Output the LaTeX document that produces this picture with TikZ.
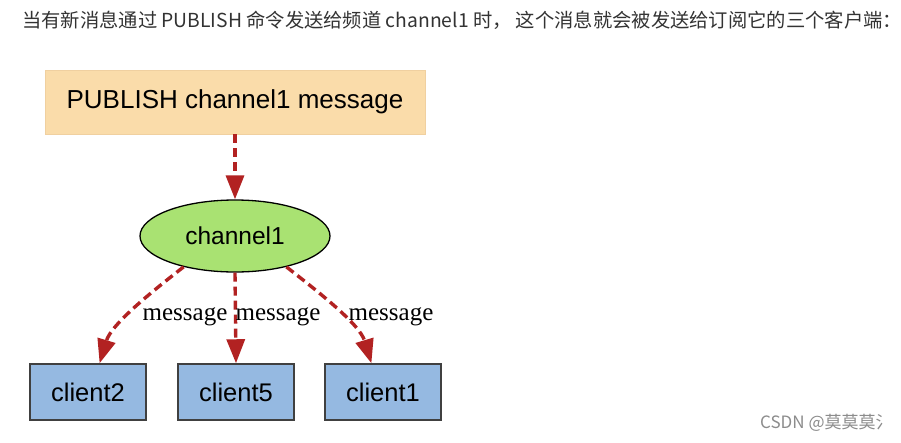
\documentclass[tikz,border=0pt]{standalone}
\usepackage{fontspec}
\setmainfont{Liberation Sans}
\newfontfamily\cjkfont{Noto Sans CJK SC}
\newfontfamily\timesfont{Liberation Serif}
\usetikzlibrary{arrows.meta,shapes.geometric}
\definecolor{pubfill}{HTML}{FADCAA}
\definecolor{pubdraw}{HTML}{F0D0A0}
\definecolor{chfill}{HTML}{A9E272}
\definecolor{clfill}{HTML}{95B9E1}
\definecolor{arrowred}{HTML}{B22222}
\definecolor{wmgray}{HTML}{8C8C8C}
\definecolor{titlegray}{HTML}{333333}
\tikzset{
  pubbox/.style={draw=pubdraw, fill=pubfill, line width=0.6pt, minimum width=380pt, minimum height=64pt, inner sep=0pt, font=\fontsize{26}{30}\selectfont},
  chnode/.style={ellipse, draw=black, fill=chfill, line width=1.3pt, minimum width=190pt, minimum height=72pt, inner sep=0pt, font=\fontsize{24.5}{28}\selectfont},
  clbox/.style={draw=black!75, fill=clfill, line width=1.5pt, minimum width=116pt, minimum height=56pt, inner sep=0pt, font=\fontsize{25.5}{28}\selectfont},
  msgarrow/.style={draw=arrowred, line width=3.4pt, dash pattern=on 9pt off 5pt, -{Triangle[length=24pt,width=18pt]}},
  msglabel/.style={font=\timesfont\fontsize{25}{28}\selectfont, inner sep=0pt},
}
\begin{document}
\begin{tikzpicture}[x=1pt,y=-1pt]
\useasboundingbox (0,0) rectangle (901,442);
\fill[white] (0,0) rectangle (901,442);
\node[anchor=west, inner sep=0pt, text=titlegray, font=\cjkfont\fontsize{19.3}{22}\selectfont] (title) at (22,20) {当有新消息通过 PUBLISH 命令发送给频道 channel1 时， 这个消息就会被发送给订阅它的三个客户端：};
\node[pubbox] (pub) at (235,102) {PUBLISH channel1 message};
\node[chnode] (ch) at (235,236) {channel1};
\node[clbox] (c2) at (88,392) {client2};
\node[clbox] (c5) at (236,392) {client5};
\node[clbox] (c1) at (383,392) {client1};
\draw[msgarrow] (pub.south) -- (ch.north);
\draw[msgarrow] (ch.211) .. controls +(-28,22) and +(12,-40) .. (c2.68);
\draw[msgarrow] (ch.south) -- (c5.north);
\draw[msgarrow] (ch.329) .. controls +(28,22) and +(-12,-40) .. (c1.112);
\node[msglabel] (m1) at (185,317) {message};
\node[msglabel] (m2) at (278,317) {message};
\node[msglabel] (m3) at (391,317) {message};
\node[anchor=west, inner sep=0pt, text=wmgray, font=\cjkfont\fontsize{17}{20}\selectfont] (wm) at (760,423) {CSDN @莫莫莫氵};
\end{tikzpicture}
\end{document}
